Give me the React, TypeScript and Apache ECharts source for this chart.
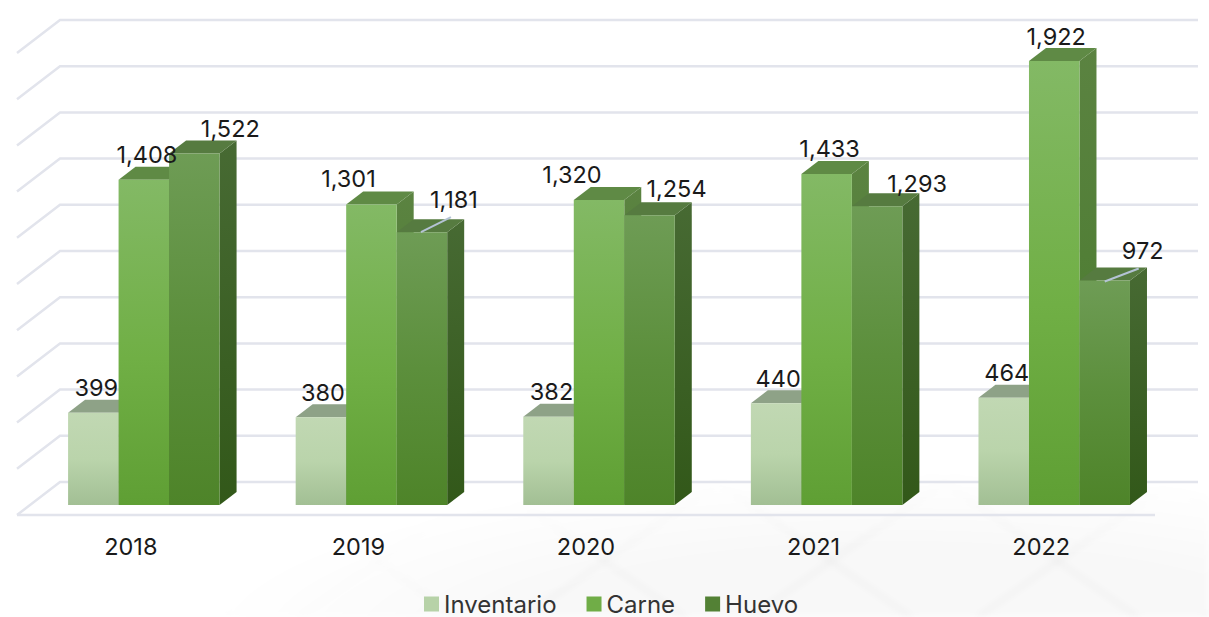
import React, { useEffect, useRef } from "react";
import * as echarts from "echarts";

const years = ["2018", "2019", "2020", "2021", "2022"];
const inventario = [399, 380, 382, 440, 464];
const carne = [1408, 1301, 1320, 1433, 1922];
const huevo = [1522, 1181, 1254, 1293, 972];
const gridTicks = [0, 200, 400, 600, 800, 1000, 1200, 1400, 1600, 1800, 2000];

// label placement relative to the centre of each bar's top edge
const inventarioLabelOffset = [[3, -25], [2, -25], [3, -25], [2, -25], [3, -25]];
const carneLabelOffset = [[3, -25], [-23, -26], [-27, -26], [3, -25], [2, -25]];
const huevoLabelOffset = [[36, -25], [32, -33], [27, -27], [40, -23], [38, -30]];
const huevoLeader = [null, [-1, 0, 29, -15], null, null, [0, 1, 34, -12]];

const FONT = "Inter, 'Noto Sans', sans-serif";
const DEPTH_X = 43;
const DEPTH_Y = -33;
const BAR_W = 50.5;
const BAR_DX = 17;
const BAR_DY = -13;

const grad = (stops: [number, string][]) =>
  new echarts.graphic.LinearGradient(0, 0, 0, 1, stops.map(([offset, color]) => ({ offset, color })));

const looks = [
  {
    front: () => grad([[0, "#c1d8b3"], [0.5, "#bad4ab"], [1, "#a2bf94"]]),
    side: () => grad([[0, "#7e9675"], [1, "#6d8562"]]),
    top: "#8ea287",
    legend: "#b7d2a8",
  },
  {
    front: () => grad([[0, "#83b965"], [0.55, "#70af45"], [1, "#5f9f34"]]),
    side: () => grad([[0, "#5b8341"], [1, "#477a2b"]]),
    top: "#5f8a45",
    legend: "#70ad47",
  },
  {
    front: () => grad([[0, "#6e9c55"], [0.5, "#5c8f3c"], [1, "#4e8429"]]),
    side: () => grad([[0, "#476a33"], [1, "#325819"]]),
    top: "#567b40",
    legend: "#538135",
  },
];

const frontLeft = (cx: number, idx: number) => cx + (DEPTH_X * 10) / 33 - (BAR_W * 3) / 2 + idx * BAR_W;

function barSeries(name: string, values: number[], idx: number) {
  const look = looks[idx];
  return {
    name,
    type: "custom",
    z: 3 + idx,
    clip: false,
    itemStyle: { color: look.legend },
    data: values.map((v, i) => [i, v]),
    encode: { x: 0, y: 1 },
    renderItem: (_p: any, api: any) => {
      const i = api.value(0);
      const v = api.value(1);
      const [cx, yTopRaw] = api.coord([i, v]);
      const [, yBaseRaw] = api.coord([i, 0]);
      const x0 = frontLeft(cx, idx);
      const x1 = x0 + BAR_W;
      const yT = yTopRaw - 10;
      const yB = yBaseRaw - 10;
      return {
        type: "group",
        children: [
          {
            type: "polygon",
            shape: { points: [[x1, yT], [x1 + BAR_DX, yT + BAR_DY], [x1 + BAR_DX, yB + BAR_DY], [x1, yB]] },
            style: { fill: look.side() },
          },
          {
            type: "polygon",
            shape: { points: [[x0, yT], [x0 + BAR_DX, yT + BAR_DY], [x1 + BAR_DX, yT + BAR_DY], [x1, yT]] },
            style: { fill: look.top },
          },
          {
            type: "rect",
            shape: { x: x0, y: yT, width: BAR_W, height: yB - yT },
            style: { fill: look.front() },
          },
        ],
      };
    },
  };
}

function labelSeries(values: number[], idx: number, offsets: number[][], leaders?: (number[] | null)[]) {
  return {
    name: `labels-${idx}`,
    type: "custom",
    z: 10,
    clip: false,
    silent: true,
    data: values.map((v, i) => [i, v]),
    encode: { x: 0, y: 1 },
    renderItem: (_p: any, api: any) => {
      const i = api.value(0);
      const v = api.value(1);
      const [cx, yTopRaw] = api.coord([i, v]);
      const mid = frontLeft(cx, idx) + BAR_W / 2;
      const yT = yTopRaw - 10;
      const children: any[] = [];
      const leader = leaders && leaders[i];
      if (leader) {
        children.push({
          type: "line",
          shape: { x1: mid + leader[0], y1: yT + leader[1], x2: mid + leader[2], y2: yT + leader[3] },
          style: { stroke: "#b4c3d4", lineWidth: 2 },
        });
      }
      children.push({
        type: "text",
        style: {
          text: v.toLocaleString("en-US"),
          x: mid + offsets[i][0],
          y: yT + offsets[i][1],
          align: "center",
          verticalAlign: "middle",
          font: `23.5px ${FONT}`,
          fill: "#1a1a1a",
        },
      });
      return { type: "group", children };
    },
  };
}

const wallSeries = {
  name: "wall",
  type: "custom",
  z: 1,
  clip: false,
  silent: true,
  data: gridTicks.map((t) => [0, t]),
  encode: { x: 0, y: 1 },
  renderItem: (p: any, api: any) => {
    const t = api.value(1);
    const [, y] = api.coord([0, t]);
    const left = p.coordSys.x;
    const right = left + p.coordSys.width;
    const style = { stroke: "#e2e4ec", lineWidth: 2.5, fill: "none" };
    const children: any[] = [
      {
        type: "polyline",
        shape: { points: [[left, y], [left + DEPTH_X, y + DEPTH_Y], [right + DEPTH_X, y + DEPTH_Y]] },
        style,
      },
    ];
    if (t === 0) {
      children.push({ type: "line", shape: { x1: left, y1: y, x2: right, y2: y }, style });
    }
    return { type: "group", children };
  },
};

export default function App() {
  const ref = useRef<HTMLDivElement>(null);
  useEffect(() => {
    document.body.style.margin = "0";
    const chart = echarts.init(ref.current!, null, { renderer: "svg" });
    chart.setOption({
      animation: false,
      backgroundColor: "transparent",
      grid: { left: 17, top: 53, width: 1138, height: 462, containLabel: false },
      xAxis: {
        type: "category",
        data: years,
        axisLine: { show: false },
        axisTick: { show: false },
        axisLabel: { margin: 19, fontSize: 23.5, color: "#1a1a1a", fontFamily: FONT },
      },
      yAxis: {
        type: "value",
        min: 0,
        max: 2000,
        interval: 200,
        axisLine: { show: false },
        axisTick: { show: false },
        axisLabel: { show: false },
        splitLine: { show: false },
      },
      legend: {
        data: ["Inventario", "Carne", "Huevo"],
        top: 587,
        left: 419,
        icon: "rect",
        itemWidth: 15,
        itemHeight: 15,
        itemGap: 30,
        textStyle: { fontSize: 24, color: "#333", fontFamily: FONT },
      },
      series: [
        wallSeries,
        barSeries("Inventario", inventario, 0),
        barSeries("Carne", carne, 1),
        barSeries("Huevo", huevo, 2),
        labelSeries(inventario, 0, inventarioLabelOffset),
        labelSeries(carne, 1, carneLabelOffset),
        labelSeries(huevo, 2, huevoLabelOffset, huevoLeader),
      ],
    });
    return () => chart.dispose();
  }, []);
  return (
    <div style={{ position: "fixed", left: 0, top: 0, width: 1209, height: 617, background: "#fff", overflow: "hidden" }}>
      <div
        style={{
          position: "absolute",
          inset: 0,
          background:
            "repeating-linear-gradient(35deg, rgba(0,0,0,0.025) 0 5px, transparent 5px 130px), repeating-linear-gradient(-35deg, rgba(0,0,0,0.025) 0 5px, transparent 5px 130px), rgba(0,0,0,0.028)",
          filter: "blur(3px)",
          WebkitMaskImage: "radial-gradient(ellipse 700px 170px at 900px 640px, #000 55%, transparent 100%)",
          maskImage: "radial-gradient(ellipse 700px 170px at 900px 640px, #000 55%, transparent 100%)",
        }}
      />
      <div ref={ref} style={{ position: "absolute", left: 0, top: 0, width: 1209, height: 617 }} />
    </div>
  );
}
